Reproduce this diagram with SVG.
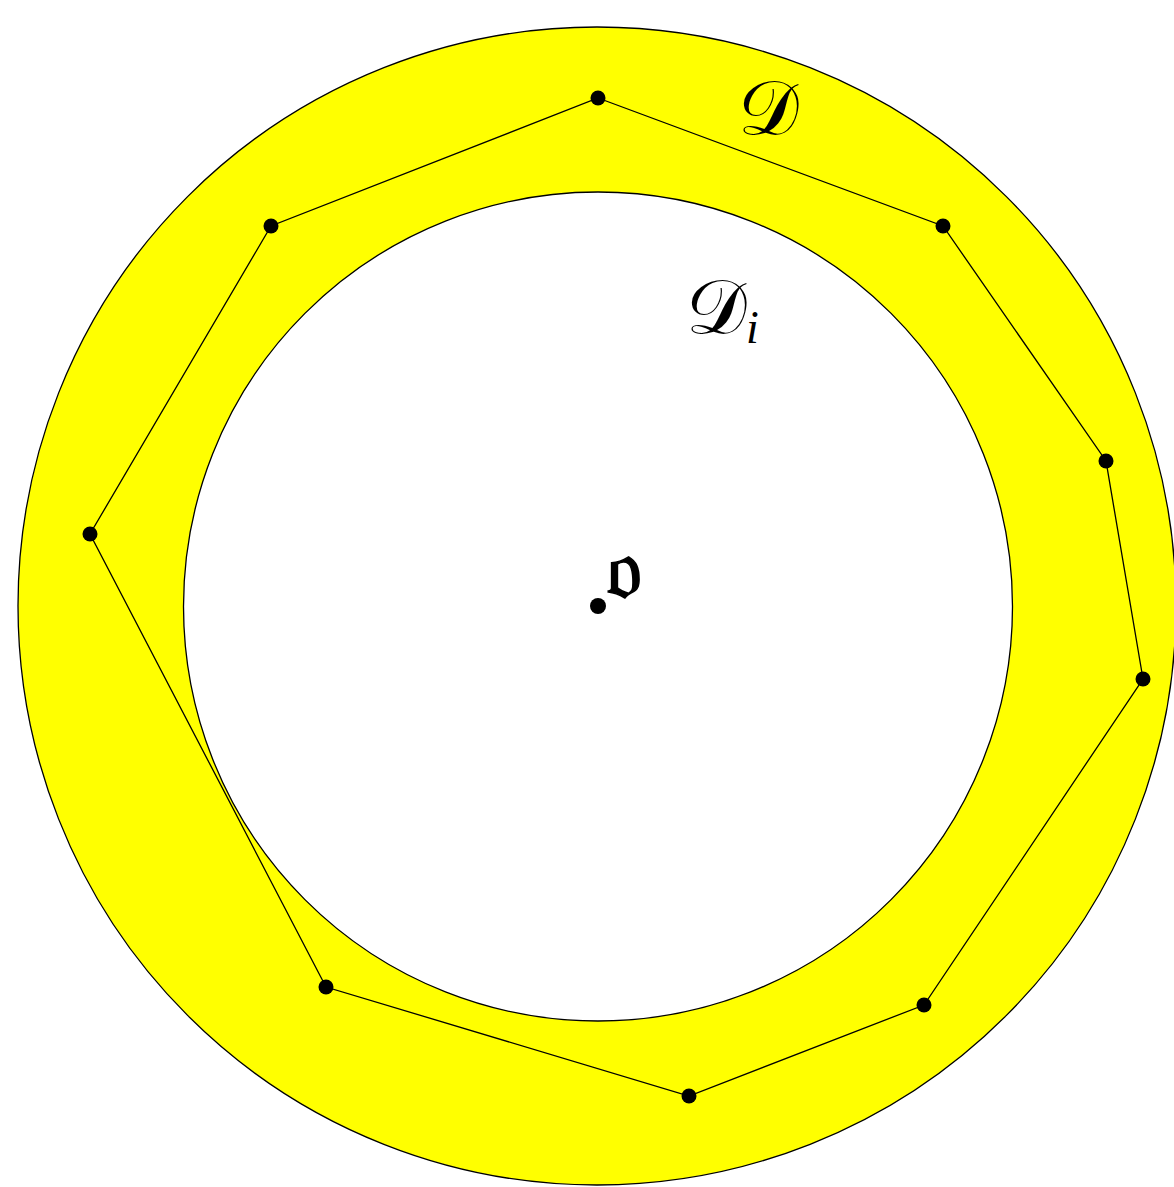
<svg xmlns="http://www.w3.org/2000/svg" width="1174" height="1187" viewBox="0 0 1174 1187">
<style>
.ring{stroke:#000;stroke-width:1.3}
.poly{fill:none;stroke:#000;stroke-width:1.3}
.pt{fill:#000}
.lbl{font-family:"DejaVu Serif","Noto Sans","DejaVu Sans",serif;fill:#000}
.sub{font-family:"Liberation Serif",serif;font-style:italic;fill:#000}
</style>
<rect width="1174" height="1187" fill="#fff"/>
<g id="outer-disk"><circle class="ring" cx="597" cy="606" r="579" fill="#ffff00"/></g>
<g id="inner-disk"><circle class="ring" cx="598" cy="606.5" r="414.5" fill="#fff"/></g>
<g id="connectors">
<polygon class="poly" points="598,98 943,226 1106,461 1143,679 924,1005 689,1096 326,987 90,534 271,226"/>
</g>
<g id="points">
<circle class="pt" cx="598" cy="98" r="7.5"/>
<circle class="pt" cx="943" cy="226" r="7.5"/>
<circle class="pt" cx="1106" cy="461" r="7.5"/>
<circle class="pt" cx="1143" cy="679" r="7.5"/>
<circle class="pt" cx="924" cy="1005" r="7.5"/>
<circle class="pt" cx="689" cy="1096" r="7.5"/>
<circle class="pt" cx="326" cy="987" r="7.5"/>
<circle class="pt" cx="90" cy="534" r="7.5"/>
<circle class="pt" cx="271" cy="226" r="7.5"/>
<circle class="pt" cx="598" cy="606" r="8"/>
</g>
<g id="labels">
<text class="lbl" x="738" y="134" font-size="76">𝒟</text>
<text class="lbl" x="686" y="333" font-size="76">𝒟</text>
<text class="sub" x="746" y="343" font-size="46">i</text>
<text class="lbl" x="606" y="598" font-size="86" stroke="#000" stroke-width="1.5">𝔬</text>
</g>
</svg>
